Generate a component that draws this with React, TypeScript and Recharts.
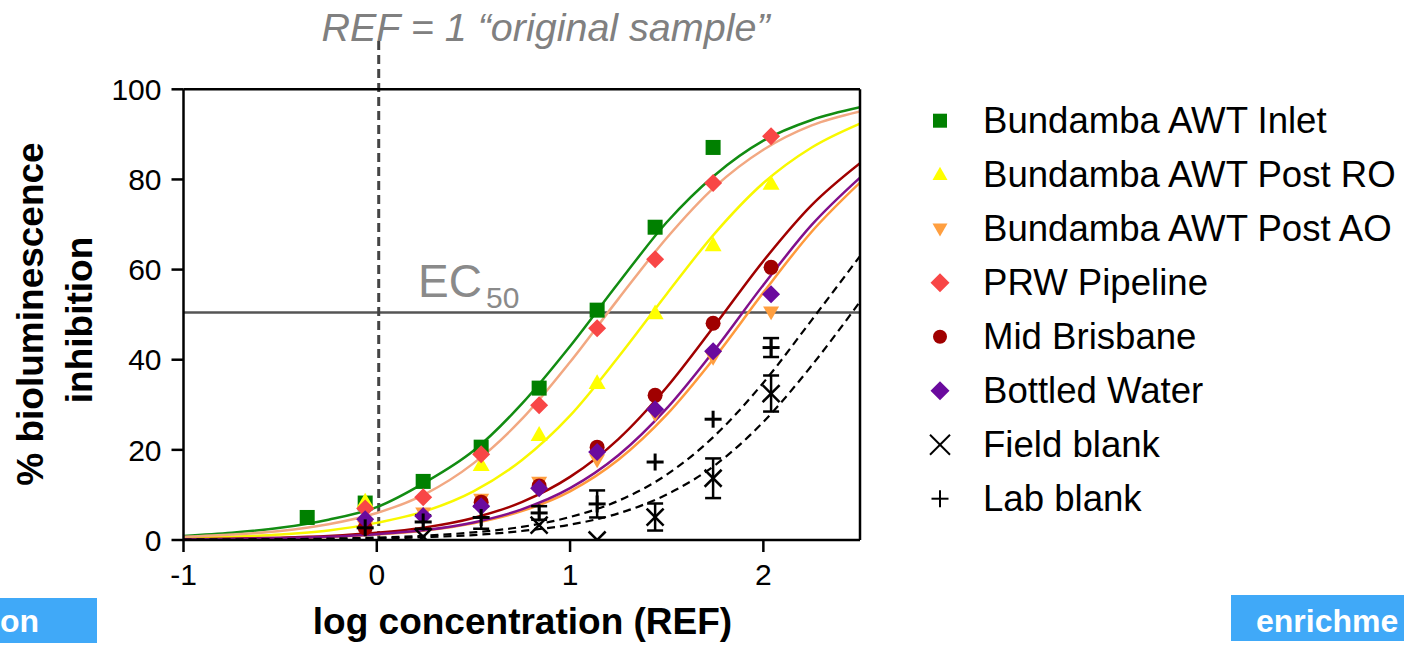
import React from 'react';
import {
  ComposedChart, Line, Scatter, XAxis, YAxis, ReferenceLine, ErrorBar, Legend, Customized,
} from 'recharts';

const FONT = '"Liberation Sans", Arial, Helvetica, sans-serif';

// ---- legend / series names ----
const seriesNames = [
  'Bundamba AWT Inlet',
  'Bundamba AWT Post RO',
  'Bundamba AWT Post AO',
  'PRW Pipeline',
  'Mid Brisbane',
  'Bottled Water',
  'Field blank',
  'Lab blank',
];

// ---- axis ticks ----
const xTicks = [-1, 0, 1, 2];
const yTicks = [0, 20, 40, 60, 80, 100];

// ---- measured points (log REF, % inhibition) ----
const inletX = [-0.36, -0.06, 0.24, 0.54, 0.84, 1.14, 1.44, 1.74];
const inletY = [5.0, 8.2, 13.0, 20.6, 33.7, 51.0, 69.4, 87.1];

const postRoX = [-0.06, 0.54, 0.84, 1.14, 1.44, 1.74, 2.04];
const postRoY = [8.5, 16.6, 23.3, 34.8, 50.3, 65.4, 79.0];

const postAoX = [-0.06, 0.24, 0.54, 0.84, 1.14, 1.44, 1.74, 2.04];
const postAoY = [3.0, 6.0, 9.0, 12.8, 17.8, 28.0, 40.5, 50.6];

const prwX = [-0.06, 0.24, 0.54, 0.84, 1.14, 1.44, 1.74, 2.04];
const prwY = [7.0, 9.5, 19.0, 29.9, 47.0, 62.3, 79.2, 89.6];

const midX = [-0.06, 0.54, 0.84, 1.14, 1.44, 1.74, 2.04];
const midY = [2.7, 8.4, 12.0, 20.6, 32.1, 48.1, 60.5];

const bottledX = [-0.06, 0.24, 0.54, 0.84, 1.14, 1.44, 1.74, 2.04];
const bottledY = [4.6, 5.3, 7.5, 11.5, 19.5, 29.0, 41.9, 54.5];

const fieldX = [0.24, 0.84, 1.14, 1.44, 1.74, 2.04];
const fieldY = [0.7, 3.3, 0.0, 5.1, 13.7, 32.5];
const fieldErr = [null, null, null, 3.0, 4.4, 4.0];

const labX = [-0.06, 0.24, 0.54, 0.84, 1.14, 1.44, 1.74, 2.04];
const labY = [2.7, 4.0, 5.0, 6.0, 8.0, 17.3, 26.8, 42.7];
const labErr = [null, 1.5, 2.5, 1.5, 3.0, null, null, 2.1];

// ---- fitted curves ----
const curveX = [-1, -0.75, -0.5, -0.25, 0, 0.25, 0.5, 0.75, 1.0, 1.25, 1.5, 1.75, 2.0, 2.25, 2.5];
const fitInlet = [0.9, 1.6, 2.7, 4.5, 7.3, 12.8, 19.8, 30.2, 43.0, 57.0, 70.5, 81.0, 88.6, 93.2, 96.0];
const fitPostRo = [0.4, 0.7, 1.2, 2.1, 3.8, 6.4, 10.8, 17.7, 27.6, 40.6, 54.6, 68.1, 79.2, 87.1, 92.4];
const fitPostAo = [0.12, 0.22, 0.38, 0.68, 1.2, 2.1, 3.7, 6.4, 10.8, 17.8, 27.8, 40.6, 54.9, 68.4, 79.3];
const fitPrw = [0.7, 1.2, 2.0, 3.5, 6.0, 10.2, 17.0, 26.8, 39.5, 53.5, 67.0, 78.4, 86.6, 92.0, 95.1];
const fitMid = [0.16, 0.29, 0.51, 0.9, 1.6, 2.8, 4.9, 8.4, 14.0, 22.4, 33.9, 47.7, 61.9, 74.3, 83.6];
const fitBottled = [0.13, 0.23, 0.41, 0.73, 1.3, 2.2, 3.9, 6.8, 11.5, 18.8, 29.2, 42.3, 56.6, 69.9, 80.4];
const fitField = [0.03, 0.05, 0.09, 0.2, 0.35, 0.63, 1.1, 2.0, 3.4, 5.9, 10.1, 16.6, 26.2, 38.7, 52.9];
const fitLab = [0.05, 0.1, 0.17, 0.3, 0.53, 0.95, 1.7, 2.9, 5.1, 8.7, 14.5, 23.2, 34.9, 48.8, 63.0];

// reference lines
const ec50Level = 50.5;
const refX = 0.01;

const pts = (xs: number[], ys: number[], errs?: (number | null)[]) =>
  xs.map((x, i) => ({ x, y: ys[i], err: errs && errs[i] != null ? errs[i] : undefined }));
const curve = (ys: number[]) => curveX.map((x, i) => ({ x, y: ys[i] }));

// ---- colours ----
const C = {
  inlet: '#008000', inletLine: '#128C12',
  ro: '#FFFF00', roLine: '#F8F800',
  ao: '#FF9F40', aoLine: '#FF9A3C',
  prw: '#F84646', prwLine: '#F2A882',
  mid: '#A00000', midLine: '#A00000',
  bottled: '#6A0A9E', bottledLine: '#82108C',
  blank: '#000000',
};

// ---- marker shapes ----
const sq = (s: number, fill: string) => (cx: number, cy: number) => (
  <rect x={cx - s / 2} y={cy - s / 2} width={s} height={s} fill={fill} />
);
const triUp = (s: number, fill: string) => (cx: number, cy: number) => {
  const h = s * 0.87;
  return <polygon points={`${cx},${cy - h * 0.6} ${cx - s / 2},${cy + h * 0.4} ${cx + s / 2},${cy + h * 0.4}`} fill={fill} />;
};
const triDown = (s: number, fill: string) => (cx: number, cy: number) => {
  const h = s * 0.87;
  return <polygon points={`${cx},${cy + h * 0.6} ${cx - s / 2},${cy - h * 0.4} ${cx + s / 2},${cy - h * 0.4}`} fill={fill} />;
};
const dia = (s: number, fill: string) => (cx: number, cy: number) => (
  <polygon points={`${cx},${cy - s / 2} ${cx + s / 2},${cy} ${cx},${cy + s / 2} ${cx - s / 2},${cy}`} fill={fill} />
);
const circ = (s: number, fill: string) => (cx: number, cy: number) => <circle cx={cx} cy={cy} r={s / 2} fill={fill} />;
const cross = (s: number, w: number) => (cx: number, cy: number) => (
  <g stroke="#000" strokeWidth={w}>
    <line x1={cx - s / 2} y1={cy - s / 2} x2={cx + s / 2} y2={cy + s / 2} />
    <line x1={cx - s / 2} y1={cy + s / 2} x2={cx + s / 2} y2={cy - s / 2} />
  </g>
);
const plus = (s: number, w: number) => (cx: number, cy: number) => (
  <g stroke="#000" strokeWidth={w}>
    <line x1={cx - s / 2} y1={cy} x2={cx + s / 2} y2={cy} />
    <line x1={cx} y1={cy - s / 2} x2={cx} y2={cy + s / 2} />
  </g>
);

const plotMarkers = [
  sq(15, C.inlet), triUp(17, C.ro), triDown(16, C.ao), dia(18, C.prw),
  circ(15, C.mid), dia(18, C.bottled), cross(17, 2.5), plus(17, 3),
];
const legendMarkers = [
  sq(14, C.inlet), triUp(15, C.ro), triDown(15, C.ao), dia(19, C.prw),
  circ(14, C.mid), dia(19, C.bottled), cross(20, 2), plus(17, 2),
];

const shapeOf = (i: number) => (p: any) => plotMarkers[i](p.cx, p.cy);

const LegendBox = () => (
  <svg width={504} height={440} style={{ overflow: 'visible' }}>
    {seriesNames.map((name, i) => {
      const cy = 30.7 + i * 54;
      return (
        <g key={name}>
          {legendMarkers[i](40, cy)}
          <text x={83} y={cy + 12} fontFamily={FONT} fontSize={36.6} fill="#000">{name}</text>
        </g>
      );
    })}
  </svg>
);

const Decorations = () => (
  <g fontFamily={FONT}>
    <text x={545.5} y={41} textAnchor="middle" fontSize={39.5} fontStyle="italic" fill="#808080">
      REF = 1 “original sample”
    </text>
    <text x={418} y={297} fontSize={46} fill="#8A8A8A">EC</text>
    <text x={486} y={308} fontSize={30} fill="#8A8A8A">50</text>
    <text x={522.5} y={634} textAnchor="middle" fontSize={37} fontWeight="bold" fill="#000">
      log concentration (REF)
    </text>
    <text transform="translate(43,314) rotate(-90)" textAnchor="middle" fontSize={37} fontWeight="bold" fill="#000">
      % bioluminescence
    </text>
    <text transform="translate(92,320) rotate(-90)" textAnchor="middle" fontSize={37} fontWeight="bold" fill="#000">
      inhibition
    </text>
    <rect x={0} y={598} width={97} height={45} fill="#40A9F8" />
    <text x={0} y={632} fontSize={32} fontWeight="bold" fill="#FFFFFF">on</text>
    <rect x={1231} y={595} width={173} height={46} fill="#40A9F8" />
    <text x={1256} y={632} fontSize={32} fontWeight="bold" fill="#FFFFFF">enrichme</text>
  </g>
);

const lineSeries = [
  { ys: fitInlet, stroke: C.inletLine, dash: undefined },
  { ys: fitPostRo, stroke: C.roLine, dash: undefined },
  { ys: fitPostAo, stroke: C.aoLine, dash: undefined },
  { ys: fitPrw, stroke: C.prwLine, dash: undefined },
  { ys: fitMid, stroke: C.midLine, dash: undefined },
  { ys: fitBottled, stroke: C.bottledLine, dash: undefined },
  { ys: fitField, stroke: '#000', dash: '8 5' },
  { ys: fitLab, stroke: '#000', dash: '8 5' },
];

const pointSeries = [
  pts(inletX, inletY),
  pts(postRoX, postRoY),
  pts(postAoX, postAoY),
  pts(prwX, prwY),
  pts(midX, midY),
  pts(bottledX, bottledY),
  pts(fieldX, fieldY, fieldErr),
  pts(labX, labY, labErr),
];

export default function App() {
  return (
    <div style={{ position: 'absolute', left: 0, top: 0, width: 1404, height: 663, background: '#fff' }}>
      <style>{'body{margin:0;overflow:hidden;background:#fff}'}</style>
      <ComposedChart
        width={1404}
        height={663}
        margin={{ top: 89.3, right: 544, bottom: 63, left: 83.5 }}
        style={{ fontFamily: FONT }}
      >
        <XAxis
          dataKey="x"
          type="number"
          domain={[-1, 2.5]}
          ticks={xTicks}
          allowDataOverflow
          height={60}
          axisLine={{ stroke: '#000', strokeWidth: 2.5 }}
          tickLine={{ stroke: '#000', strokeWidth: 2.5 }}
          tickSize={12}
          tickMargin={12}
          tick={{ fill: '#000', fontSize: 30, fontFamily: FONT }}
        />
        <YAxis
          dataKey="y"
          type="number"
          domain={[0, 100]}
          ticks={yTicks}
          allowDataOverflow
          width={100}
          axisLine={{ stroke: '#000', strokeWidth: 2.5 }}
          tickLine={{ stroke: '#000', strokeWidth: 2.5 }}
          tickSize={12}
          tickMargin={10}
          tick={{ fill: '#000', fontSize: 30, fontFamily: FONT }}
        />
        <ReferenceLine y={ec50Level} stroke="#555" strokeWidth={2.5} />
        <ReferenceLine
          segment={[{ x: refX, y: 0 }, { x: refX, y: 111 }]}
          ifOverflow="visible"
          stroke="#444"
          strokeWidth={3}
          strokeDasharray="9 5"
        />
        {lineSeries.map((s, i) => (
          <Line
            key={'l' + i}
            data={curve(s.ys)}
            dataKey="y"
            type="monotone"
            stroke={s.stroke}
            strokeWidth={s.dash ? 2.2 : 2.5}
            strokeDasharray={s.dash}
            dot={false}
            activeDot={false}
            legendType="none"
            isAnimationActive={false}
          />
        ))}
        {pointSeries.map((d, i) => (
          <Scatter
            key={'s' + i}
            name={seriesNames[i]}
            data={d}
            dataKey="y"
            shape={shapeOf(i)}
            isAnimationActive={false}
          >
            {i >= 6 && (
              <ErrorBar dataKey="err" direction="y" width={8} strokeWidth={2.5} stroke="#000" />
            )}
          </Scatter>
        ))}
        <ReferenceLine y={100} stroke="#000" strokeWidth={2.5} />
        <ReferenceLine x={2.5} stroke="#000" strokeWidth={2.5} />
        <Legend
          layout="vertical"
          align="center"
          verticalAlign="middle"
          wrapperStyle={{ left: 900, top: 90, width: 504, height: 440 }}
          content={() => <LegendBox />}
        />
        <Customized component={Decorations} />
      </ComposedChart>
    </div>
  );
}
